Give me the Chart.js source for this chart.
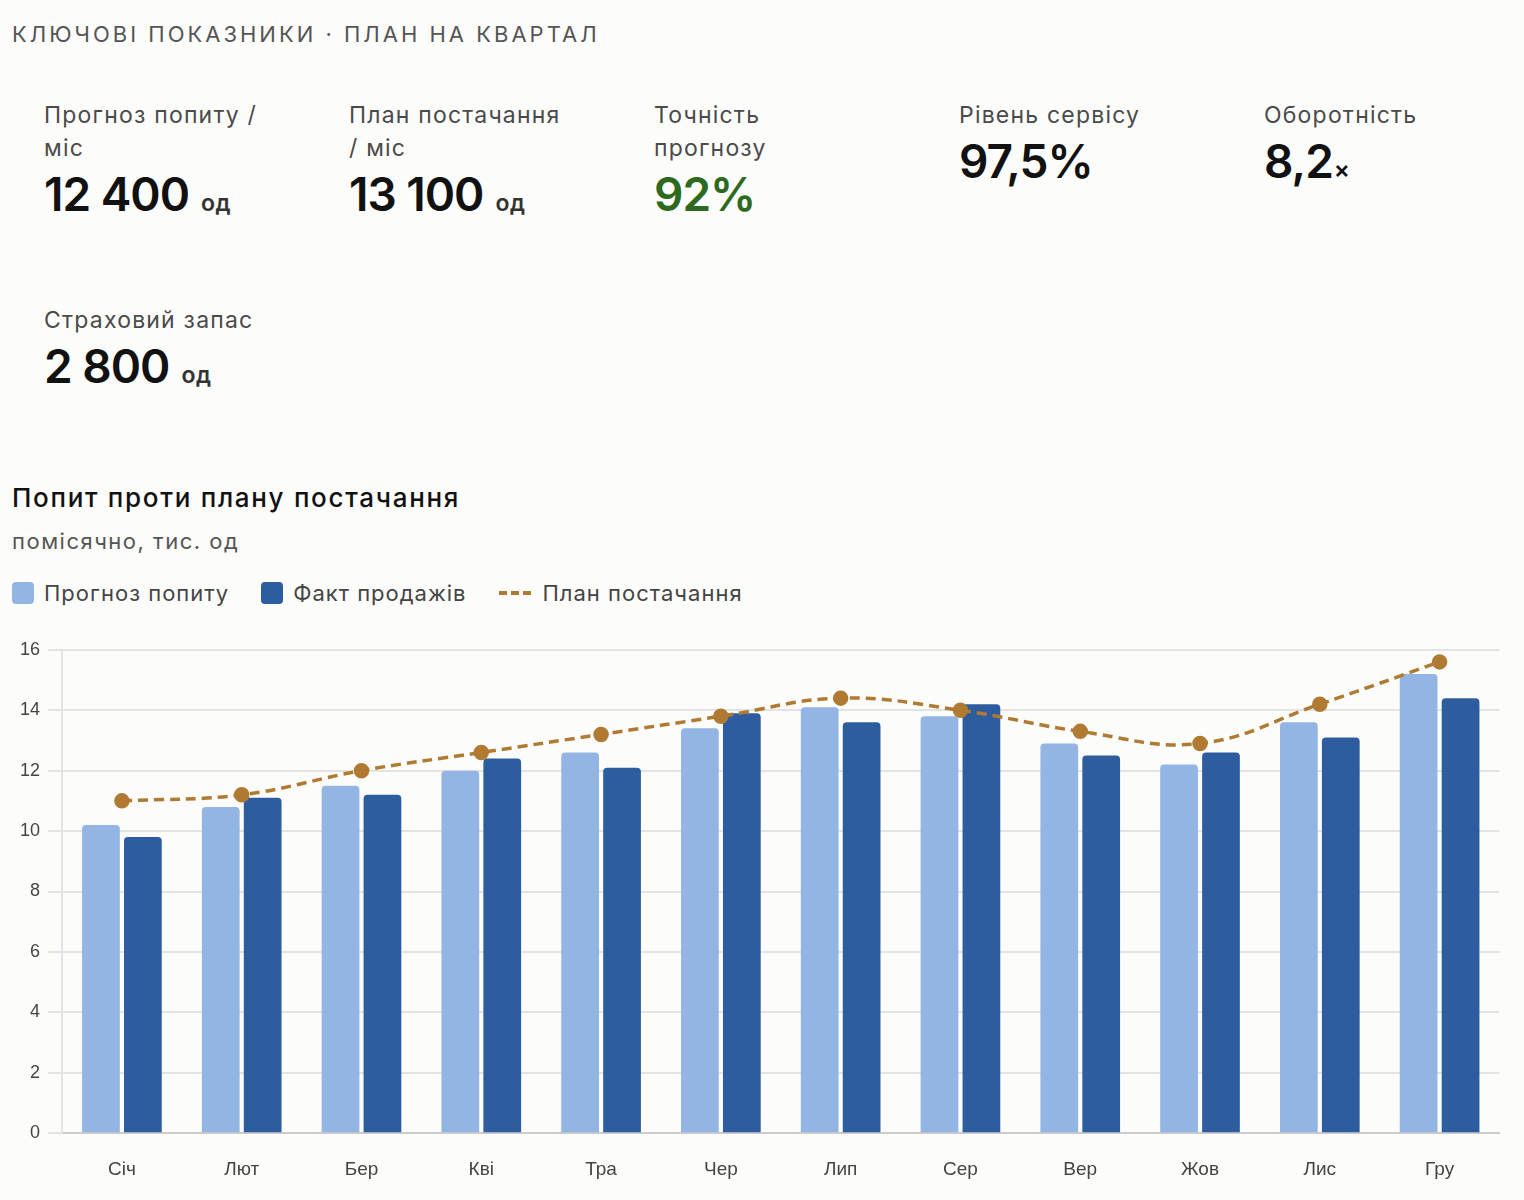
<!DOCTYPE html>
<html lang="uk">
<head>
<meta charset="utf-8">
<title>Попит проти плану постачання</title>
<script src="https://cdn.jsdelivr.net/npm/chart.js@4.4.1/dist/chart.umd.min.js"></script>
<style>
  html, body { margin: 0; padding: 0; background: #fcfcfa; }
  body { font-family: Inter, "Noto Sans", sans-serif; color: #111; width: 1524px; height: 1200px; position: relative; overflow: hidden; }
  .eyebrow { position: absolute; left: 12px; top: 21px; font-size: 22px; letter-spacing: 3px; color: #555; }
  .kpis { position: absolute; left: 44px; top: 99px; width: 1480px; display: grid; grid-template-columns: repeat(5, 305px); row-gap: 75px; }
  .kpi .label { font-size: 23px; line-height: 33px; color: #4a4a4a; width: 225px; letter-spacing: 1.2px; }
  .kpi .value { font-size: 46px; font-weight: 600; line-height: 52px; margin-top: 3px; letter-spacing: -1px; }
  .kpi .value .unit { font-size: 23px; font-weight: 600; color: #333; margin-left: 12px; letter-spacing: 0.5px; }
  .kpi .value.good { color: #2d6a1f; }
  .kpi .value .times { font-size: 24px; margin-left: 1px; }
  .chart-title { position: absolute; left: 12px; top: 482px; font-size: 26px; font-weight: 500; color: #111; letter-spacing: 1.7px; }
  .chart-sub { position: absolute; left: 12px; top: 528px; font-size: 22px; color: #555; letter-spacing: 1.5px; }
  .legend { position: absolute; left: 12px; top: 580px; display: flex; align-items: center; font-size: 22px; color: #444; letter-spacing: 1px; }
  .legend .item { display: flex; align-items: center; margin-right: 32px; }
  .legend .box { width: 22px; height: 22px; border-radius: 4px; margin-right: 10px; }
  .legend .dash { width: 32px; height: 0; border-top: 4px dashed #b07a32; margin-right: 12px; }
  .chart-wrap { position: absolute; left: 0; top: 631px; width: 1509px; height: 575px; }
</style>
</head>
<body>
<div class="eyebrow">КЛЮЧОВІ ПОКАЗНИКИ · ПЛАН НА КВАРТАЛ</div>

<div class="kpis">
  <div class="kpi"><div class="label">Прогноз попиту / міс</div><div class="value">12 400<span class="unit">од</span></div></div>
  <div class="kpi"><div class="label">План постачання / міс</div><div class="value">13 100<span class="unit">од</span></div></div>
  <div class="kpi"><div class="label">Точність прогнозу</div><div class="value good">92%</div></div>
  <div class="kpi"><div class="label">Рівень сервісу</div><div class="value">97,5%</div></div>
  <div class="kpi"><div class="label">Оборотність</div><div class="value">8,2<span class="times">×</span></div></div>
  <div class="kpi"><div class="label">Страховий запас</div><div class="value">2 800<span class="unit">од</span></div></div>
</div>

<div class="chart-title">Попит проти плану постачання</div>
<div class="chart-sub">помісячно, тис. од</div>
<div class="legend">
  <div class="item"><span class="box" style="background:#92b5e3"></span>Прогноз попиту</div>
  <div class="item"><span class="box" style="background:#2e5d9f"></span>Факт продажів</div>
  <div class="item"><span class="dash"></span>План постачання</div>
</div>

<div class="chart-wrap"><canvas id="demandChart"></canvas></div>

<script>
// monthly values, thousand units
const months = ['Січ', 'Лют', 'Бер', 'Кві', 'Тра', 'Чер', 'Лип', 'Сер', 'Вер', 'Жов', 'Лис', 'Гру'];
const forecast = [10.2, 10.8, 11.5, 12.0, 12.6, 13.4, 14.1, 13.8, 12.9, 12.2, 13.6, 15.2];
const actual = [9.8, 11.1, 11.2, 12.4, 12.1, 13.9, 13.6, 14.2, 12.5, 12.6, 13.1, 14.4];
const supplyPlan = [11.0, 11.2, 12.0, 12.6, 13.2, 13.8, 14.4, 14.0, 13.3, 12.9, 14.2, 15.6];

document.addEventListener('DOMContentLoaded', function() {
    const ctx = document.getElementById('demandChart').getContext('2d');

    new Chart(ctx, {
        data: {
            labels: months,
            datasets: [
                {
                    type: 'line',
                    label: 'План постачання',
                    data: supplyPlan,
                    borderColor: '#b07a32',
                    backgroundColor: '#b07a32',
                    borderWidth: 3.5,
                    borderDash: [10, 6],
                    tension: 0.4,
                    pointRadius: 6,
                    pointHoverRadius: 6,
                    fill: false,
                    order: 0
                },
                {
                    type: 'bar',
                    label: 'Прогноз попиту',
                    data: forecast,
                    backgroundColor: '#92b5e3',
                    borderRadius: { topLeft: 4, topRight: 4 },
                    borderSkipped: 'bottom',
                    categoryPercentage: 0.7,
                    barPercentage: 0.9,
                    order: 1
                },
                {
                    type: 'bar',
                    label: 'Факт продажів',
                    data: actual,
                    backgroundColor: '#2e5d9f',
                    borderRadius: { topLeft: 4, topRight: 4 },
                    borderSkipped: 'bottom',
                    categoryPercentage: 0.7,
                    barPercentage: 0.9,
                    order: 1
                }
            ]
        },
        options: {
            responsive: true,
            maintainAspectRatio: false,
            animation: false,
            layout: { padding: { left: 12, right: 0, top: 4, bottom: 0 } },
            plugins: {
                legend: { display: false },
                tooltip: { enabled: false }
            },
            scales: {
                x: {
                    grid: { display: false, drawTicks: false },
                    border: { color: '#cccccc', width: 2 },
                    ticks: {
                        color: '#444',
                        padding: 25,
                        font: { family: '"Liberation Sans", Arial, sans-serif', size: 19 }
                    }
                },
                y: {
                    min: 0,
                    max: 16,
                    ticks: {
                        stepSize: 2,
                        color: '#444',
                        padding: 8,
                        font: { family: '"Liberation Sans", Arial, sans-serif', size: 18 }
                    },
                    grid: { color: '#e3e3e3', lineWidth: 2, tickLength: 14 },
                    border: { color: '#e3e3e3', width: 2 }
                }
            }
        }
    });
});
</script>
</body>
</html>
